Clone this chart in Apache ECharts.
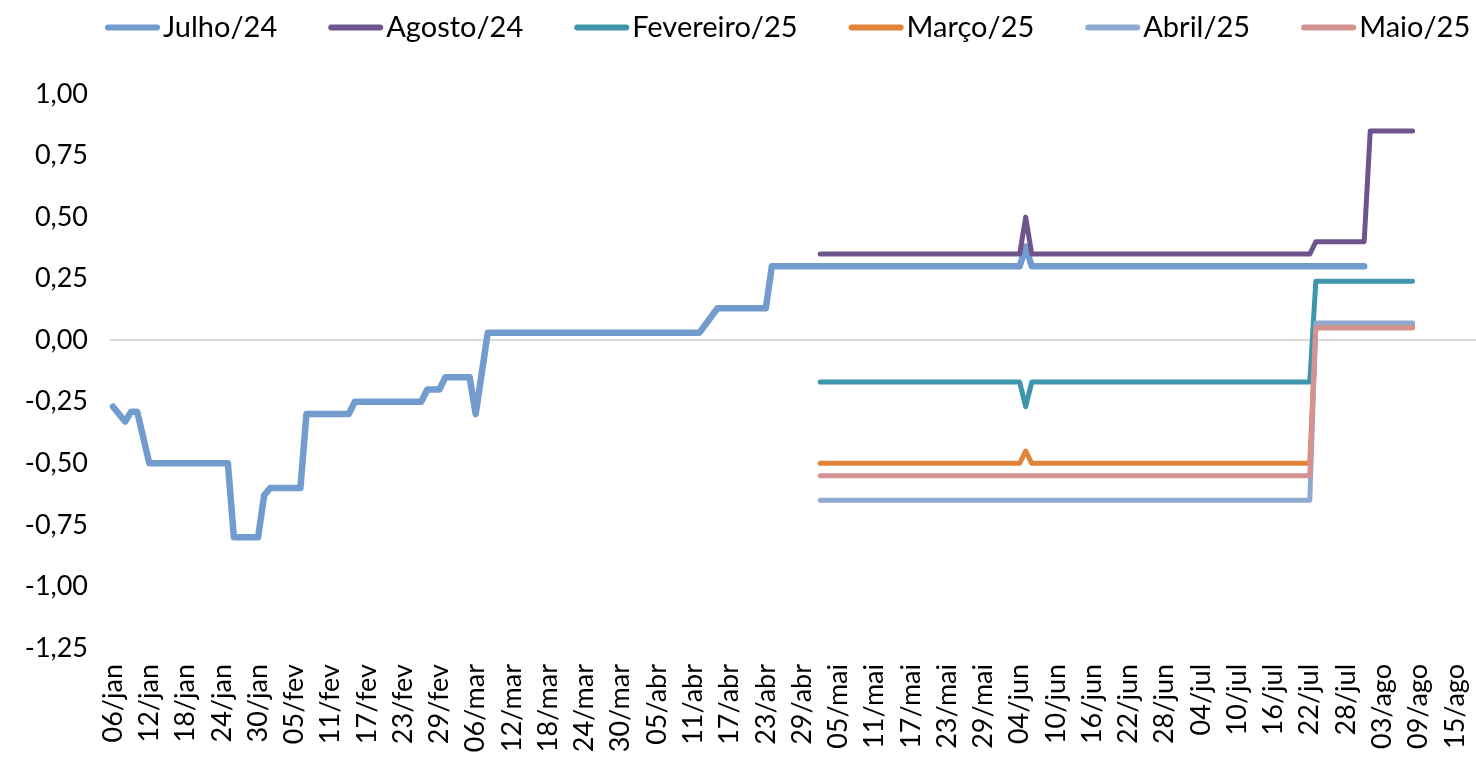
<!DOCTYPE html>
<html>
<head>
<meta charset="utf-8">
<script src="https://cdn.jsdelivr.net/npm/echarts@6/dist/echarts.min.js"></script>
<style>
  html, body { margin: 0; padding: 0; background: #ffffff; }
  #chart { width: 1476px; height: 758px; }
</style>
</head>
<body>
<div id="chart"></div>
<script>
// Calendar axis: one category per day, labelled dd/mmm in Portuguese
const monthNames = ['jan', 'fev', 'mar', 'abr', 'mai', 'jun', 'jul', 'ago', 'set', 'out', 'nov', 'dez'];
const firstDay = [2024, 0, 6];
const dayCount = 226;
const labelEvery = 6;

// Y axis range and step
const yMin = -1.25;
const yMax = 1.0;
const yStep = 0.25;

// Series names (legend order)
const seriesNames = ['Julho/24', 'Agosto/24', 'Fevereiro/25', 'Março/25', 'Abril/25', 'Maio/25'];

// Observations: [day, value]; days in between are joined by the line
const julho24 = [
  ['06/jan', -0.27], ['08/jan', -0.33], ['09/jan', -0.29], ['10/jan', -0.29],
  ['12/jan', -0.50], ['25/jan', -0.50], ['26/jan', -0.80], ['30/jan', -0.80],
  ['31/jan', -0.63], ['01/fev', -0.60], ['06/fev', -0.60], ['07/fev', -0.30],
  ['14/fev', -0.30], ['15/fev', -0.25], ['26/fev', -0.25], ['27/fev', -0.20],
  ['29/fev', -0.20], ['01/mar', -0.15], ['05/mar', -0.15], ['06/mar', -0.30],
  ['08/mar', 0.03], ['12/abr', 0.03], ['15/abr', 0.13], ['23/abr', 0.13],
  ['24/abr', 0.30], ['04/jun', 0.30], ['05/jun', 0.38], ['06/jun', 0.30],
  ['31/jul', 0.30]
];
const agosto24 = [
  ['02/mai', 0.35], ['04/jun', 0.35], ['05/jun', 0.50], ['06/jun', 0.35],
  ['22/jul', 0.35], ['23/jul', 0.40], ['31/jul', 0.40], ['01/ago', 0.85],
  ['08/ago', 0.85]
];
const fevereiro25 = [
  ['02/mai', -0.17], ['04/jun', -0.17], ['05/jun', -0.27], ['06/jun', -0.17],
  ['22/jul', -0.17], ['23/jul', 0.24], ['08/ago', 0.24]
];
const marco25 = [
  ['02/mai', -0.50], ['04/jun', -0.50], ['05/jun', -0.45], ['06/jun', -0.50],
  ['22/jul', -0.50], ['23/jul', 0.06], ['08/ago', 0.06]
];
const abril25 = [
  ['02/mai', -0.65], ['22/jul', -0.65], ['23/jul', 0.07], ['08/ago', 0.07]
];
const maio25 = [
  ['02/mai', -0.55], ['22/jul', -0.55], ['23/jul', 0.05], ['08/ago', 0.05]
];

const seriesColors = ['#729bce', '#6e548d', '#3d96ab', '#e0843a', '#8faad1', '#d49391'];
const seriesWidths = [6.5, 5, 5, 5, 5, 5];

// Build the day list
const days = [];
for (let i = 0; i < dayCount; i++) {
  const d = new Date(firstDay[0], firstDay[1], firstDay[2] + i);
  const dd = String(d.getDate()).padStart(2, '0');
  days.push(dd + '/' + monthNames[d.getMonth()]);
}

function toDaily(points) {
  const out = days.map(() => null);
  points.forEach(([day, v]) => {
    const idx = days.indexOf(day);
    if (idx >= 0) out[idx] = v;
  });
  return out;
}

const seriesData = [julho24, agosto24, fevereiro25, marco25, abril25, maio25];

const FONT = 'Lato, "Open Sans", sans-serif';

const series = seriesNames.map((name, i) => {
  const s = {
    name: name,
    type: 'line',
    data: toDaily(seriesData[i]),
    connectNulls: true,
    showSymbol: false,
    symbol: 'none',
    smooth: false,
    lineStyle: { color: seriesColors[i], width: seriesWidths[i], cap: 'round', join: 'round' },
    itemStyle: { color: seriesColors[i] },
    emphasis: { disabled: true }
  };
  if (i === 0) {
    // horizontal reference line at zero
    s.markLine = {
      silent: true,
      symbol: ['none', 'none'],
      label: { show: false },
      lineStyle: { color: '#d9d9d9', width: 2, type: 'solid' },
      emphasis: { disabled: true },
      data: [{ yAxis: 0 }],
      z: 1
    };
  }
  return s;
});

const chart = echarts.init(document.getElementById('chart'), null, { renderer: 'canvas' });
chart.setOption({
  animation: false,
  backgroundColor: '#ffffff',
  legend: {
    data: seriesNames,
    left: 100,
    top: 8,
    width: 1400,
    itemGap: 51,
    itemWidth: 55,
    itemHeight: 6,
    icon: 'path://M3,0 H52 A3,3 0 0 1 52,6 H3 A3,3 0 0 1 3,0 Z',
    textStyle: { fontFamily: FONT, fontSize: 29, color: '#000000', padding: [0, 0, 0, -2] }
  },
  grid: { left: 110, right: 0, top: 94, bottom: 110 },
  xAxis: {
    type: 'category',
    data: days,
    boundaryGap: true,
    axisLine: { show: false },
    axisTick: { show: false },
    splitLine: { show: false },
    axisLabel: {
      interval: labelEvery - 1,
      rotate: 90,
      margin: 16,
      fontFamily: FONT,
      fontSize: 27,
      color: '#000000'
    }
  },
  yAxis: {
    type: 'value',
    min: yMin,
    max: yMax,
    interval: yStep,
    axisLine: { show: false },
    axisTick: { show: false },
    splitLine: { show: false },
    axisLabel: {
      margin: 22,
      fontFamily: FONT,
      fontSize: 27,
      color: '#000000',
      formatter: v => v.toFixed(2).replace('.', ',')
    }
  },
  series: series
});
</script>
</body>
</html>
